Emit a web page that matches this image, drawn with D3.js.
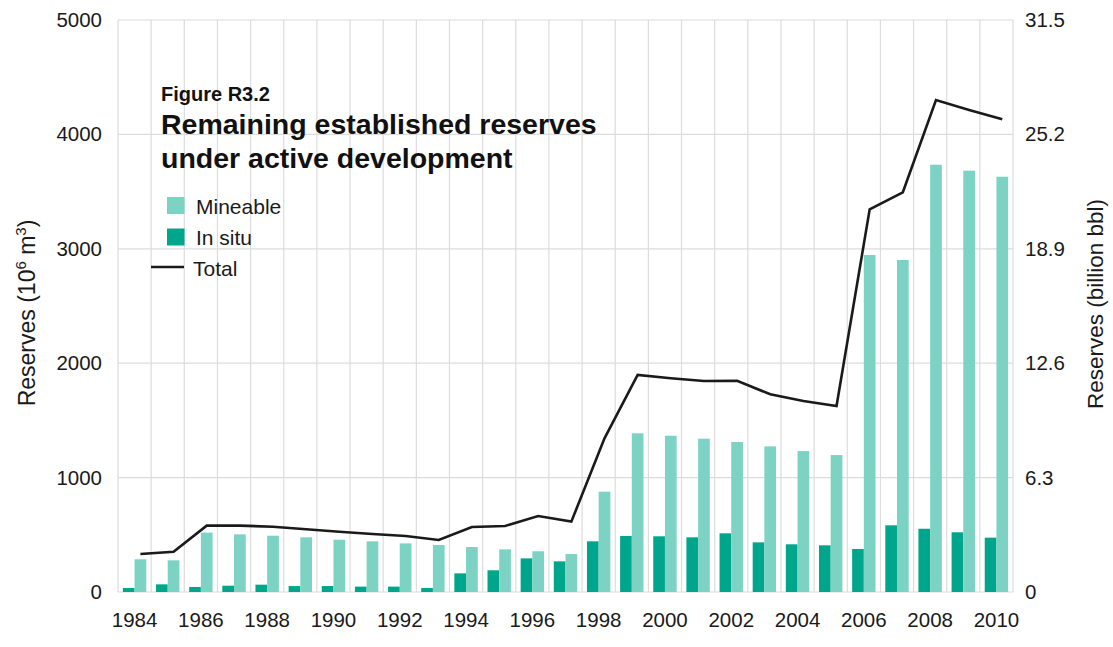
<!DOCTYPE html>
<html>
<head>
<meta charset="utf-8">
<script src="https://cdn.jsdelivr.net/npm/d3@7"></script>
<style>
  body { margin: 0; background: #fff; }
  text { font-family: "Liberation Sans", Arial, sans-serif; }
</style>
</head>
<body>
<svg id="chart" width="1113" height="647"></svg>
<script>
const years = [1984,1985,1986,1987,1988,1989,1990,1991,1992,1993,1994,1995,1996,1997,1998,1999,2000,2001,2002,2003,2004,2005,2006,2007,2008,2009,2010];
const mineable = [286,277,519,504,492,478,457,443,425,411,393,373,356,332,877,1387,1366,1340,1311,1273,1232,1197,2946,2902,3735,3683,3630];
const inSitu = [35,67,44,55,64,52,52,47,47,35,163,190,294,268,443,490,487,478,513,434,417,408,376,583,553,522,475];
const total = [332,352,580,580,571,548,527,507,489,455,568,577,664,615,1343,1897,1868,1844,1846,1728,1670,1626,3345,3494,4300,4213,4132];
const leftTicks = [0,1000,2000,3000,4000,5000];
const rightTicks = [0,6.3,12.6,18.9,25.2,31.5];
const xLabelYears = [1984,1986,1988,1990,1992,1994,1996,1998,2000,2002,2004,2006,2008,2010];
const seriesNames = ["In situ","Mineable"];
const colors = {"Mineable":"#7dd3c3","In situ":"#00a68b"};

const svg = d3.select("#chart");
const L = 118, R = 1013, T = 20, B = 592;
const FONT = "Liberation Sans, Arial, sans-serif";

const x = d3.scaleBand().domain(years).range([L, R]).padding(0);
const xs = d3.scaleBand().domain(seriesNames).range([0, x.bandwidth()]).paddingInner(0).paddingOuter(0.417);
const y = d3.scaleLinear().domain([0, 5000]).range([B, T]);
const y2 = d3.scaleLinear().domain([0, 31.5]).range([B, T]);

// gridlines
const grid = svg.append("g");
grid.selectAll("line.h").data(leftTicks).join("line")
  .attr("x1", L).attr("x2", R).attr("y1", d => y(d)).attr("y2", d => y(d))
  .attr("stroke", "#dcdcdc").attr("stroke-width", 1.2);
const bounds = years.map(d => x(d)).concat([R]);
grid.selectAll("line.v").data(bounds).join("line")
  .attr("x1", d => d).attr("x2", d => d).attr("y1", T).attr("y2", B)
  .attr("stroke", "#dcdcdc").attr("stroke-width", 1.2);

// bars
const rows = years.map((yr, i) => ({year: yr, "In situ": inSitu[i], "Mineable": mineable[i]}));
const g = svg.append("g");
g.selectAll("g.yr").data(rows).join("g")
  .attr("transform", d => `translate(${x(d.year)},0)`)
  .selectAll("rect").data(d => seriesNames.map(k => ({k, v: d[k]}))).join("rect")
  .attr("x", d => xs(d.k)).attr("width", xs.bandwidth())
  .attr("y", d => y(d.v)).attr("height", d => y(0) - y(d.v))
  .attr("fill", d => colors[d.k]);

// total line
const line = d3.line()
  .x((d, i) => x(years[i]) + xs("Mineable") + xs.bandwidth() / 2)
  .y(d => y(d));
svg.append("path").datum(total).attr("d", line)
  .attr("fill", "none").attr("stroke", "#1a1a1a").attr("stroke-width", 2.6)
  .attr("stroke-linejoin", "miter");

// left axis
const axL = svg.append("g").attr("transform", `translate(${L},0)`)
  .call(d3.axisLeft(y).tickValues(leftTicks).tickSize(0).tickPadding(16).tickFormat(d3.format("d")));
axL.select(".domain").remove();
axL.selectAll("text").attr("font-size", 20.5).attr("fill", "#1a1a1a").attr("font-family", FONT);

// right axis
const axR = svg.append("g").attr("transform", `translate(${R},0)`)
  .call(d3.axisRight(y2).tickValues(rightTicks).tickSize(0).tickPadding(12).tickFormat(d => d === 0 ? "0" : d3.format(".1f")(d)));
axR.select(".domain").remove();
axR.selectAll("text").attr("font-size", 20.5).attr("fill", "#1a1a1a").attr("font-family", FONT);

// bottom axis
const axB = svg.append("g").attr("transform", `translate(0,${B})`)
  .call(d3.axisBottom(x).tickValues(xLabelYears).tickSize(0).tickPadding(20));
axB.select(".domain").remove();
axB.selectAll("text").attr("font-size", 20.5).attr("fill", "#1a1a1a").attr("font-family", FONT);

// axis titles
const lt = svg.append("text").attr("transform", `translate(35,313) rotate(-90)`)
  .attr("text-anchor", "middle").attr("font-size", 23).attr("fill", "#1a1a1a");
lt.append("tspan").text("Reserves (10");
lt.append("tspan").text("6").attr("font-size", 15).attr("dy", -9);
lt.append("tspan").text(" m").attr("dy", 9);
lt.append("tspan").text("3").attr("font-size", 15).attr("dy", -9);
lt.append("tspan").text(")").attr("dy", 9);

svg.append("text").attr("transform", `translate(1103,304) rotate(-90)`)
  .attr("text-anchor", "middle").attr("font-size", 22.5).attr("fill", "#1a1a1a")
  .text("Reserves (billion bbl)");

// title
svg.append("text").attr("x", 161).attr("y", 101).attr("font-size", 20).attr("font-weight", "bold")
  .attr("fill", "#111").text("Figure R3.2");
svg.append("text").attr("x", 161).attr("y", 134).attr("font-size", 28.5).attr("font-weight", "bold")
  .attr("fill", "#111").text("Remaining established reserves");
svg.append("text").attr("x", 161).attr("y", 168).attr("font-size", 28.5).attr("font-weight", "bold")
  .attr("fill", "#111").text("under active development");

// legend
const legendItems = ["Mineable","In situ"];
const lg = svg.append("g");
legendItems.forEach((k, i) => {
  lg.append("rect").attr("x", 167).attr("y", 197 + i * 31.5).attr("width", 17.5).attr("height", 17).attr("fill", colors[k]);
  lg.append("text").attr("x", 196).attr("y", 214 + i * 31).attr("font-size", 21).attr("fill", "#1a1a1a").text(k);
});
lg.append("line").attr("x1", 151).attr("x2", 184).attr("y1", 267).attr("y2", 267)
  .attr("stroke", "#1a1a1a").attr("stroke-width", 2.6);
lg.append("text").attr("x", 193).attr("y", 276).attr("font-size", 21).attr("fill", "#1a1a1a").text("Total");
</script>
</body>
</html>
